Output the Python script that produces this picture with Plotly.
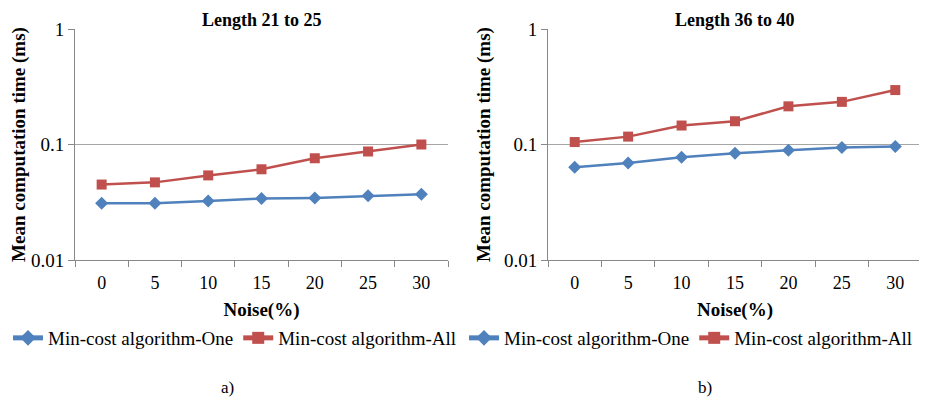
import plotly.graph_objects as go

noise = ["0", "5", "10", "15", "20", "25", "30"]
one_a = [0.031, 0.031, 0.0325, 0.034, 0.0345, 0.036, 0.037]
all_a = [0.045, 0.047, 0.054, 0.061, 0.076, 0.087, 0.100]
one_b = [0.0635, 0.069, 0.0776, 0.084, 0.089, 0.094, 0.096]
all_b = [0.105, 0.117, 0.146, 0.159, 0.214, 0.234, 0.296]
titles = ["Length 21 to 25", "Length 36 to 40"]
names = ["Min-cost algorithm-One", "Min-cost algorithm-All"]
ytick_vals = [0.01, 0.1, 1]
ytick_text = ["0.01", "0.1", "1"]

BLUE = "#4F81BD"
RED = "#C0504D"
FONT = "Liberation Serif, Times New Roman, Times, serif"
OFF = 8                      # page body margin offset
W, H = 927 - OFF, 403 - OFF

fig = go.Figure()


def px2x(p):
    return (p - OFF) / W


def px2y(p):
    return 1 - (p - OFF) / H


panels = [
    dict(one=one_a, all=all_a, xd=[px2x(75), px2x(448)], xa="x", ya="y", leg="legend",
         title=titles[0], ystand=16),
    dict(one=one_b, all=all_b, xd=[px2x(548), px2x(922)], xa="x2", ya="y2", leg="legend2",
         title=titles[1], ystand=8),
]

for p in panels:
    fig.add_trace(go.Scatter(x=noise, y=p["one"], name=names[0], mode="lines+markers",
                             line=dict(color=BLUE, width=2.5),
                             marker=dict(symbol="diamond", size=10, color=BLUE),
                             xaxis=p["xa"], yaxis=p["ya"], legend=p["leg"]))
    fig.add_trace(go.Scatter(x=noise, y=p["all"], name=names[1], mode="lines+markers",
                             line=dict(color=RED, width=2.5),
                             marker=dict(symbol="square", size=10, color=RED),
                             xaxis=p["xa"], yaxis=p["ya"], legend=p["leg"]))

yd = [px2y(260), px2y(29)]


def xaxis_def(domain, anchor):
    return dict(domain=domain, anchor=anchor, type="category", range=[-0.5, 6.5], showgrid=False,
                showline=True, automargin=False, linecolor="#888888", linewidth=1, ticks="outside",
                tickson="boundaries", ticklen=6, tickcolor="#888888", ticklabelstandoff=6,
                tickfont=dict(family=FONT, size=18, color="black"),
                title=dict(text="<b>Noise(%)</b>", font=dict(family=FONT, size=19, color="black"),
                           standoff=11))


def yaxis_def(domain, anchor, standoff):
    return dict(domain=domain, anchor=anchor, type="log", range=[-2, 0], tickvals=ytick_vals,
                ticktext=ytick_text, automargin=False, showgrid=True, gridcolor="#A6A6A6", gridwidth=1,
                showline=True, linecolor="#888888", linewidth=1, ticks="outside", ticklen=6,
                tickcolor="#888888", tickfont=dict(family=FONT, size=19, color="black"), zeroline=False,
                title=dict(text="<b>Mean computation time (ms)</b>",
                           font=dict(family=FONT, size=19, color="black"), standoff=standoff))


fig.update_layout(
    xaxis=xaxis_def(panels[0]["xd"], "y"),
    yaxis=yaxis_def(yd, "x", panels[0]["ystand"]),
    xaxis2=xaxis_def(panels[1]["xd"], "y2"),
    yaxis2=yaxis_def(yd, "x2", panels[1]["ystand"]),
)

legend_common = dict(orientation="h", yanchor="middle", xanchor="left", itemwidth=30,
                     font=dict(family=FONT, size=19, color="black"), bgcolor="rgba(0,0,0,0)",
                     tracegroupgap=0, itemsizing="constant")
fig.update_layout(
    legend=dict(x=0, y=px2y(338), **legend_common),
    legend2=dict(x=px2x(464), y=px2y(338), **legend_common),
)

for p in panels:
    cx = (p["xd"][0] + p["xd"][1]) / 2
    fig.add_annotation(x=cx, y=1, xref="paper", yref="paper", text="<b>" + p["title"] + "</b>",
                       showarrow=False, font=dict(family=FONT, size=18, color="black"),
                       xanchor="center", yanchor="top")

fig.add_annotation(x=px2x(227), y=px2y(387), xref="paper", yref="paper", text="a)", showarrow=False,
                   font=dict(family=FONT, size=17, color="black"), xanchor="center", yanchor="middle")
fig.add_annotation(x=px2x(705), y=px2y(387), xref="paper", yref="paper", text="b)", showarrow=False,
                   font=dict(family=FONT, size=17, color="black"), xanchor="center", yanchor="middle")

fig.update_layout(width=W, height=H, margin=dict(l=0, r=0, t=0, b=0), font=dict(family=FONT),
                  paper_bgcolor="white", plot_bgcolor="white", showlegend=True)

fig.write_html("out.html")
